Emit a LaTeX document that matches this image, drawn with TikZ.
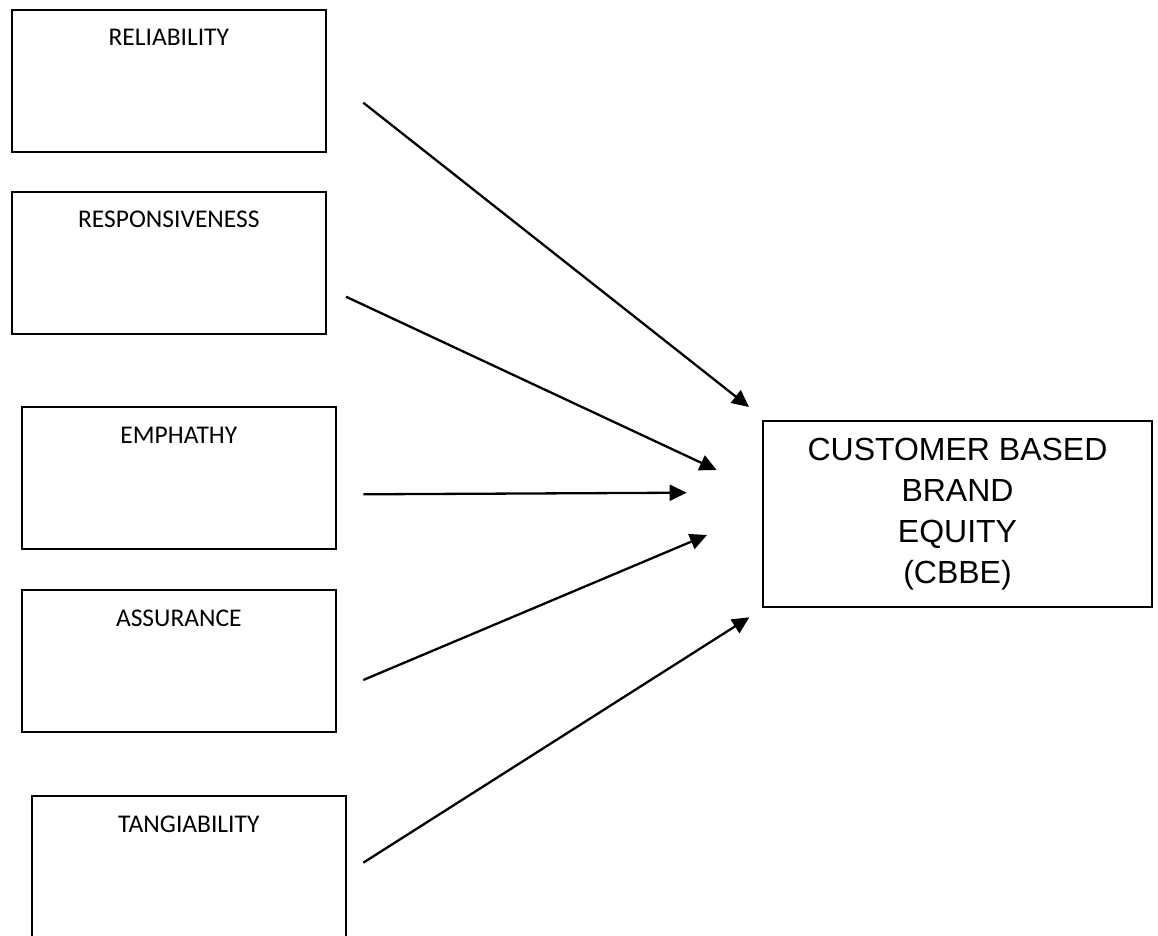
\documentclass[tikz,border=0pt]{standalone}
\usepackage{fontspec}
\newfontfamily\carlitofont{Carlito}
\newfontfamily\arialfont{Liberation Sans}
\usetikzlibrary{arrows.meta,calc}
\begin{document}
\begin{tikzpicture}[x=1pt,y=-1pt,
  box/.style={draw, line width=2.3pt, rectangle, anchor=north west, inner sep=0pt, outer sep=0pt,
    minimum width=314.3pt, minimum height=142pt},
  lbl/.style={anchor=base, inner sep=0pt, font=\carlitofont\fontsize{25.5}{30}\selectfont},
  bigbox/.style={draw, line width=2.3pt, rectangle, inner sep=0pt, outer sep=0pt,
    minimum width=388.4pt, minimum height=186pt, align=center,
    font=\arialfont\fontsize{32}{41}\selectfont},
  arr/.style={line width=2.3pt, -{Triangle[length=17pt,width=16pt]}}]
\useasboundingbox (0,0) rectangle (1158,936);
\clip (0,0) rectangle (1158,936);
\fill[white] (0,0) rectangle (1158,936);

\node[box] (rel)  at (11.7,10)    {};
\node[box] (resp) at (11.7,191.7) {};
\node[box] (emp)  at (21.7,407.3) {};
\node[box] (ass)  at (21.7,590)   {};
\node[box] (tang) at (31.7,796)   {};

\node[lbl] (rel-t)  at ($(rel.north)+(0,36)$)  {RELIABILITY};
\node[lbl] (resp-t) at ($(resp.north)+(0,36)$) {RESPONSIVENESS};
\node[lbl] (emp-t)  at ($(emp.north)+(0,36)$)  {EMPHATHY};
\node[lbl] (ass-t)  at ($(ass.north)+(0,36.5)$)  {ASSURANCE};
\node[lbl] (tang-t) at ($(tang.north)+(0,36.5)$) {TANGIABILITY};

\node[bigbox] (cbbe) at (957.5,513.7) {CUSTOMER BASED\\BRAND\\EQUITY\\(CBBE)};

\coordinate (a1s) at (363.3,102.7);
\coordinate (a1e) at (749,407);
\coordinate (a2s) at (346,296.7);
\coordinate (a2e) at (716.7,470);
\coordinate (a3s) at (363.3,494.3);
\coordinate (a3e) at (686.7,492.7);
\coordinate (a4s) at (363.3,680);
\coordinate (a4e) at (707,535);
\coordinate (a5s) at (363.3,862.7);
\coordinate (a5e) at (749.3,617.3);

\draw[arr] (a1s) -- (a1e);
\draw[arr] (a2s) -- (a2e);
\draw[arr] (a3s) -- (a3e);
\draw[arr] (a4s) -- (a4e);
\draw[arr] (a5s) -- (a5e);
\end{tikzpicture}
\end{document}
